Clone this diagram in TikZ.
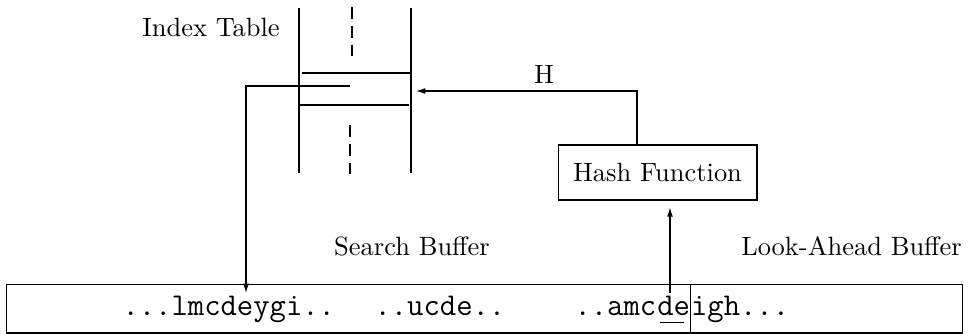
\documentclass[tikz,border=0pt]{standalone}
\usetikzlibrary{arrows.meta}
\begin{document}
\begin{tikzpicture}[x=0.378pt,y=-0.378pt, line width=0.4pt,
  arr/.style={-{Latex[length=3.5pt,width=2.2pt]}},
  lbl/.style={inner sep=0pt, font=\normalsize},
  dsh/.style={dash pattern=on 4.5pt off 2.6pt},
  tt/.style={inner sep=0pt, font=\large\ttfamily}]
\useasboundingbox (0,0) rectangle (968,334);
% index table
\node[lbl] (idx) at (211,27) {Index Table};
\coordinate (tl) at (299,8);   \coordinate (bl) at (299,173);
\coordinate (tr) at (411,8);   \coordinate (br) at (411,173);
\draw (tl) -- (bl);
\draw (tr) -- (br);
\draw[dsh] (352,7) -- (352,60);
\draw[dsh] (350,125) -- (350,180);
\draw (302,73) -- (411,73);
\draw (299,105) -- (409,105);
\coordinate (slotR) at (416,91);
\coordinate (slotL) at (350,86);
% labels
\node[lbl] (H) at (544,74) {H};
\node[lbl] (sb) at (412,246) {Search Buffer};
\node[lbl] (lab) at (851.5,246) {Look-Ahead Buffer};
% hash
\node[draw, inner sep=0pt, minimum width=75.2pt, minimum height=20.8pt] (hash) at (657.5,172.5) {Hash Function};
% buffer
\node[draw, inner sep=0pt, minimum width=361.7pt, minimum height=18.5pt] (buf) at (484.5,308.5) {};
\node[tt, anchor=base west] (s1) at (122,315) {...lmcdeygi..};
\node[tt, anchor=base west] (s2) at (374,315) {..ucde..};
\node[tt, anchor=base west] (s3) at (574,315) {..amc};
\node[tt, anchor=base west] (s4) at (s3.base east) {de};
\node[tt, anchor=base west] (s5) at (s4.base east) {igh...};
\draw ([xshift=1.3pt,yshift=-3pt]s4.base west) -- ([xshift=-2.6pt,yshift=-3pt]s4.base east);
\draw (s4.east |- buf.north) -- (s4.east |- buf.south);
% connectors
\coordinate (tgt) at (246,293);
\draw[arr] (slotL) -| (tgt);
\coordinate (hin) at (670,293);
\draw[arr, shorten >=2.6pt] (hin) -- (hin |- hash.south);
\coordinate (hout) at (637,145);
\draw[arr] (hout) |- (slotR);
\end{tikzpicture}
\end{document}
